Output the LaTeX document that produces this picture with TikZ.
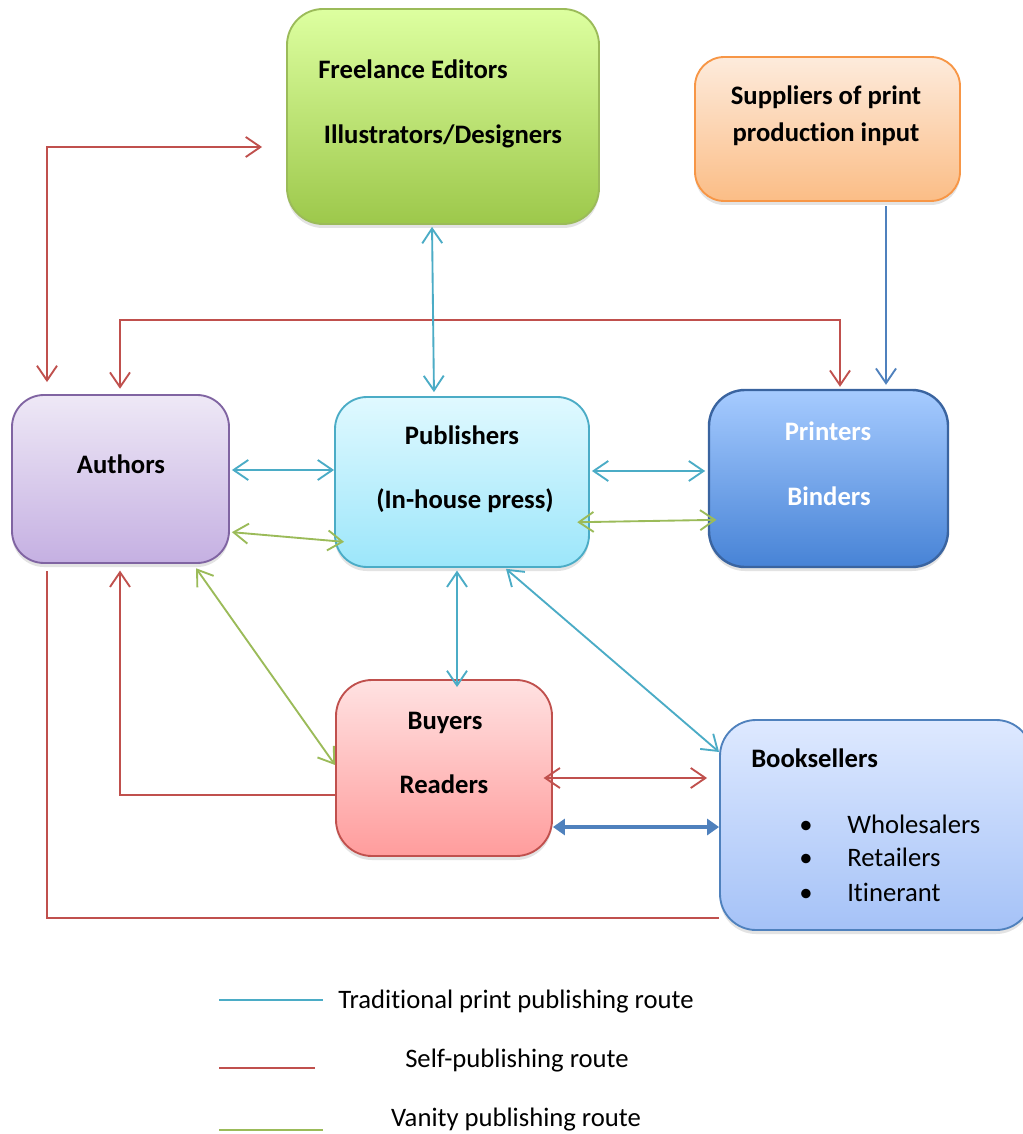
\documentclass[tikz,border=0pt]{standalone}
\usepackage{fontspec}
\setmainfont{Carlito}[Ligatures={NoCommon}]
\usetikzlibrary{arrows.meta,fit,shadows}
\definecolor{rline}{HTML}{C0504D}
\definecolor{cline}{HTML}{4BACC6}
\definecolor{gline}{HTML}{9BBB59}
\definecolor{bline}{HTML}{4F81BD}
\definecolor{feT}{HTML}{DDFFA0}
\definecolor{feB}{HTML}{9DC84B}
\definecolor{feD}{HTML}{9BBB59}
\definecolor{suT}{HTML}{FDEBDC}
\definecolor{suB}{HTML}{FBBD86}
\definecolor{suD}{HTML}{F79646}
\definecolor{auT}{HTML}{EEE8F6}
\definecolor{auB}{HTML}{C5B0E2}
\definecolor{auD}{HTML}{8064A2}
\definecolor{puT}{HTML}{E0F9FF}
\definecolor{puB}{HTML}{9CE6FA}
\definecolor{puD}{HTML}{4BACC6}
\definecolor{prT}{HTML}{A6CBFF}
\definecolor{prB}{HTML}{4783D6}
\definecolor{prD}{HTML}{3A64A0}
\definecolor{buT}{HTML}{FFE2E2}
\definecolor{buB}{HTML}{FF9C9C}
\definecolor{buD}{HTML}{C0504D}
\definecolor{boT}{HTML}{DEE9FF}
\definecolor{boB}{HTML}{A5C2F7}
\definecolor{boD}{HTML}{4F81BD}
\begin{document}
\begin{tikzpicture}[x=0.75pt,y=-0.75pt,
  font=\fontsize{20pt}{24pt}\selectfont,
  >={Straight Barb[length=11pt,width=15pt]},
  box/.style={draw, line width=1.4pt, inner sep=0pt, rounded corners=24pt,
    drop shadow={shadow xshift=0pt,shadow yshift=-3pt,opacity=.22}},
  lbl/.style={inner sep=0pt, text height=13pt, text depth=0pt, font=\fontsize{20pt}{24pt}\selectfont\bfseries},
  plain/.style={inner sep=0pt, text height=13pt, text depth=0pt},
  redl/.style={draw=rline, line width=1.4pt},
  cyanl/.style={draw=cline, line width=1.4pt},
  greenl/.style={draw=gline, line width=1.4pt},
  bluel/.style={draw=bline, line width=1.4pt}]
\useasboundingbox (0,0) rectangle (1023,1134);
\clip (0,0) rectangle (1023,1134);
\fill[white] (0,0) rectangle (1023,1134);

% boxes
\node[box, top color=feT, bottom color=feB, draw=feD, rounded corners=27pt, fit={(287,9) (599,224)}] (fe) {};
\node[box, top color=suT, bottom color=suB, draw=suD, rounded corners=22pt, fit={(695,57) (960,201)}] (su) {};
\node[box, top color=auT, bottom color=auB, draw=auD, fit={(12,395) (229,563)}] (au) {};
\node[box, top color=puT, bottom color=puB, draw=puD, fit={(335,397) (589,567)}] (pu) {};
\node[box, top color=prT, bottom color=prB, draw=prD, line width=1.8pt, rounded corners=27pt, fit={(709,390) (948,567)}] (pr) {};
\node[box, top color=buT, bottom color=buB, draw=buD, rounded corners=27pt, fit={(336,680) (552,856)}] (bu) {};
\node[box, top color=boT, bottom color=boB, draw=boD, rounded corners=27pt, fit={(720,720) (1032,930)}] (bo) {};

% texts
\node[lbl] (t1) at (413,70) {Freelance Editors};
\node[lbl] (t2) at (443,135) {Illustrators/Designers};
\node[lbl] (t3) at (826,96) {Suppliers of print};
\node[lbl] (t4) at (826,133) {production input};
\node[lbl] (t5) at (121,465) {Authors};
\node[lbl] (t6) at (462,436) {Publishers};
\node[lbl] (t7) at (465,500) {(In-house press)};
\node[lbl, text=white] (t8) at (828,432) {Printers};
\node[lbl, text=white] (t9) at (829,497) {Binders};
\node[lbl] (t10) at (445,721) {Buyers};
\node[lbl] (t11) at (444,785) {Readers};
\node[lbl, anchor=west] (t12) at (751,759) {Booksellers};
\node[plain] (b1) at (806,825) {\textbullet};
\node[plain] (b2) at (806,858) {\textbullet};
\node[plain] (b3) at (806,893) {\textbullet};
\node[plain, anchor=west] (t13) at (847,825) {Wholesalers};
\node[plain, anchor=west] (t14) at (847,858) {Retailers};
\node[plain, anchor=west] (t15) at (847,893) {Itinerant};

% red (self-publishing)
\draw[redl, <->, shorten <=9pt, shorten >=18pt] (au.north -| 47,0) -- (47,147) -- (fe.west |- 0,147);
\draw[redl, <->, shorten <=4pt, shorten >=1.5pt] (au.north -| 120,0) -- (120,320) -- (840,320) -- (pr.north -| 840,0);
\draw[redl, ->, shorten >=5pt] (bu.west |- 0,795) -- (120,795) -- (au.south -| 120,0);
\draw[redl, shorten >=5pt] (bo.west |- 0,918) -- (47,918) -- (au.south -| 47,0);
\draw[redl, <->, shorten <=-7pt, shorten >=9pt] (bu.east |- 0,778) -- (bo.west |- 0,778);

% blue
\draw[bline, line width=3pt, {Triangle[length=9pt,width=12pt]}-{Triangle[length=9pt,width=12pt]}] (bu.east |- 0,827) -- (bo.west |- 0,827);
\draw[bluel, ->, shorten <=3pt, shorten >=3pt] (su.south -| 886,0) -- (pr.north -| 886,0);

% cyan (traditional)
\draw[cyanl, <->, shorten <=1.5pt, shorten >=3pt] (fe.south -| 432,0) -- (pu.north -| 434,0);
\draw[cyanl, <->, shorten <=1.5pt] (au.east |- 0,470) -- (pu.west |- 0,470);
\draw[cyanl, <->, shorten <=1.5pt, shorten >=2pt] (pu.east |- 0,471) -- (pr.west |- 0,471);
\draw[cyanl, <->, shorten <=2pt, shorten >=-6pt] (pu.south -| 457,0) -- (bu.north -| 457,0);
\draw[cyanl, <->, shorten <=1pt] (pu.south -| 505,0) -- (bo.west |- 0,752);

% green (vanity)
\draw[greenl, <->, shorten <=1.5pt, shorten >=-7.5pt] (au.east |- 0,532) -- (pu.west |- 0,541);
\draw[greenl, <->, shorten <=-9.5pt, shorten >=-6.5pt] (pu.east |- 0,522) -- (pr.west |- 0,520);
\draw[greenl, <->, shorten <=4pt] (au.south -| 193,0) -- (bu.west |- 0,765);

% legend
\draw[cline, line width=2pt] (219,1000) -- (323,1000);
\draw[rline, line width=2pt] (219,1068) -- (315,1068);
\draw[gline, line width=2pt] (219,1130) -- (323,1130);
\node[plain, anchor=west] (l1) at (338,1000) {Traditional print publishing route};
\node[plain] (l2) at (517,1059) {Self-publishing route};
\node[plain] (l3) at (516,1118) {Vanity publishing route};
\end{tikzpicture}
\end{document}
